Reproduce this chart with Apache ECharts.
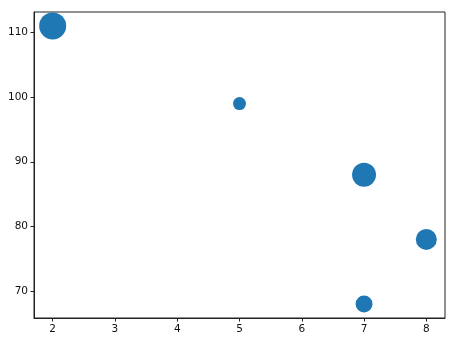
<!DOCTYPE html>
<html><head><meta charset="utf-8">
<script src="https://cdn.jsdelivr.net/npm/echarts@6/dist/echarts.min.js"></script>
<style>html,body{margin:0;padding:0;background:#fff}#c{width:450px;height:347px}</style>
</head><body><div id="c"></div>
<script>
const xValues = [2, 5, 7, 8, 7];
const yValues = [111, 99, 88, 78, 68];
const sizes = [27, 13, 24, 21, 17];
const xTicks = [2, 3, 4, 5, 6, 7, 8];
const yTicks = [70, 80, 90, 100, 110];

const data = xValues.map((x, i) => [x, yValues[i], sizes[i]]);
const chart = echarts.init(document.getElementById('c'));
const font = {fontFamily: 'DejaVu Sans', fontSize: 10.5, color: '#111'};
chart.setOption({
  animation: false,
  grid: {left: 34, top: 12, right: 5, bottom: 29, show: true, borderColor: '#222', borderWidth: 1},
  xAxis: {
    type: 'value', min: 1.7, max: 8.3,
    splitLine: {show: false},
    axisLine: {show: true, onZero: false, lineStyle: {color: '#222', width: 1}},
    axisTick: {show: true, length: 3.5, customValues: xTicks, lineStyle: {color: '#222'}},
    axisLabel: Object.assign({customValues: xTicks, margin: 6}, font)
  },
  yAxis: {
    type: 'value', min: 65.85, max: 113.15,
    splitLine: {show: false},
    axisLine: {show: true, onZero: false, lineStyle: {color: '#222', width: 1}},
    axisTick: {show: true, length: 3.5, customValues: yTicks, lineStyle: {color: '#222'}},
    axisLabel: Object.assign({customValues: yTicks, margin: 6}, font)
  },
  series: [{
    type: 'scatter',
    data: data,
    symbolSize: d => d[2],
    itemStyle: {color: '#1f77b4', opacity: 1}
  }]
});
</script></body></html>
